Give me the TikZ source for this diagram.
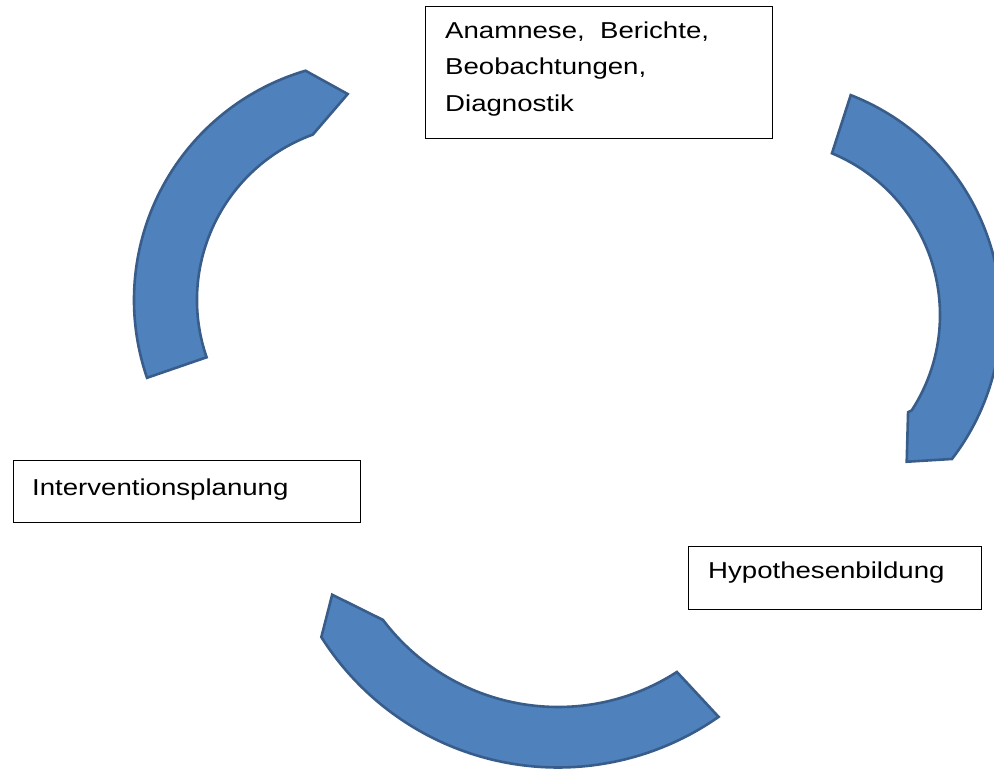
\documentclass[tikz,border=0pt]{standalone}
\usepackage{fontspec}
\setmainfont{Liberation Sans}
\newfontfamily\labfont[FakeStretch=1.2]{Liberation Sans}
\usetikzlibrary{calc}
\definecolor{arrowfill}{HTML}{4F81BD}
\definecolor{arrowline}{HTML}{385D8A}
\begin{document}
\begin{tikzpicture}[x=1pt,y=1pt,
  cyc/.style={fill=arrowfill, draw=arrowline, line width=2.6pt},
  box/.style={draw=black, line width=0.9pt, fill=white, inner sep=0pt, anchor=south west},
  lab/.style={anchor=base west, inner sep=0pt, font=\labfont\fontsize{23}{28}\selectfont}]
\useasboundingbox (0,0) rectangle (994,770);
\coordinate (cL) at (373,470);
\coordinate (cR) at (765,455);
\coordinate (cB) at (558,282.5);
% left arrow
\draw[cyc] ($(cL)+(199:239pt)$) arc[start angle=199, end angle=106.4, radius=239pt]
  -- ($(cL)+(97:207.5pt)$) -- ($(cL)+(110:176pt)$)
  arc[start angle=110, end angle=199, radius=176pt] -- cycle;
% right arrow
\draw[cyc] ($(cR)+(68.7:236pt)$) arc[start angle=68.7, end angle=-37.6, radius=236pt]
  -- ($(cR)+(-46:204pt)$) -- ($(cR)+(-34.2:173pt)$) -- ($(cR)+(-33:175pt)$)
  arc[start angle=-33, end angle=67.5, radius=175pt] -- cycle;
% bottom arrow
\draw[cyc] ($(cB)+(-55:280pt)$) arc[start angle=-55, end angle=-147.7, radius=280pt]
  -- ($(cB)+(-154.6:250pt)$) -- ($(cB)+(-142.9:219.5pt)$)
  arc[start angle=-142.9, end angle=-57.2, radius=219.5pt] -- cycle;
% boxes
\node[box, minimum width=347pt, minimum height=132pt] (b1) at (425,631) {};
\node[box, minimum width=347pt, minimum height=62pt] (b2) at (13,247) {};
\node[box, minimum width=293pt, minimum height=63pt] (b3) at (688,160) {};
% texts
\node[lab] (t1a) at (445,731.7) {Anamnese,~ Berichte,};
\node[lab] (t1b) at (445,695) {Beobachtungen,};
\node[lab] (t1c) at (445,658) {Diagnostik};
\node[lab] (t2) at (32,274) {Interventionsplanung};
\node[lab] (t3) at (708,191) {Hypothesenbildung};
\end{tikzpicture}
\end{document}
